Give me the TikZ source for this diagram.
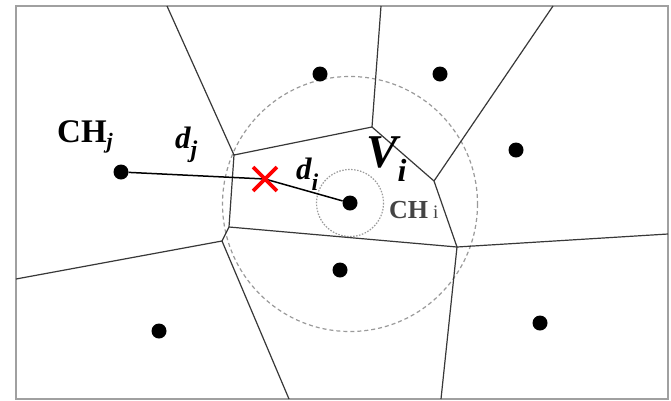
\documentclass[tikz,border=0pt]{standalone}
\usepackage{fontspec}
\setmainfont{Liberation Serif}
\usetikzlibrary{shapes.misc}
\definecolor{edgecol}{HTML}{383838}
\definecolor{ringcol}{HTML}{9A9A9A}
\definecolor{framecol}{HTML}{A0A0A0}
\definecolor{chgray}{HTML}{444444}
\tikzset{
  frame/.style={draw=framecol, line width=1.5pt},
  vedge/.style={draw=edgecol, line width=1.2pt},
  bigring/.style={draw=ringcol, line width=1.2pt, dash pattern=on 4pt off 3pt},
  smallring/.style={draw=ringcol, line width=1.2pt, dash pattern=on 1.5pt off 1.5pt},
  dot/.style={circle, fill=black, inner sep=0pt, minimum size=15pt},
  link/.style={draw=black, line width=1.5pt},
  redcross/.style={cross out, draw=red, line width=3.8pt, inner sep=0pt, minimum size=20pt},
  lbl/.style={inner sep=0pt, anchor=base west}
}
\begin{document}
\begin{tikzpicture}[x=1pt, y=-1pt]
\useasboundingbox (0,0) rectangle (671,400);
\fill[white] (0,0) rectangle (671,400);
\draw[frame] (16,6) rectangle (668,399);

% rings
\draw[bigring] (350,204) circle[radius=127.5];
\draw[smallring] (350,203) circle[radius=33.5];

% Voronoi vertices
\coordinate (A) at (234,155);
\coordinate (B) at (372,127);
\coordinate (C) at (434,181);
\coordinate (D) at (457,247);
\coordinate (E) at (229,227);
\coordinate (F) at (222,241);
% boundary ends
\coordinate (T1) at (167,6);
\coordinate (T2) at (381,6);
\coordinate (T3) at (553,6);
\coordinate (R1) at (668,234);
\coordinate (B1) at (441,399);
\coordinate (B2) at (289,399);
\coordinate (L1) at (16,279);

\draw[vedge] (T1) -- (A) -- (B) -- (C) -- (D) -- (R1);
\draw[vedge] (T2) -- (B);
\draw[vedge] (T3) -- (C);
\draw[vedge] (D) -- (B1);
\draw[vedge] (A) -- (E) -- (F) -- (L1);
\draw[vedge] (E) -- (D);
\draw[vedge] (F) -- (B2);

% sites
\node[dot] (s1) at (320,74) {};
\node[dot] (s2) at (440,74) {};
\node[dot] (s3) at (516,150) {};
\node[dot] (cj) at (121,172) {};
\node[dot] (ci) at (350,203) {};
\node[dot] (s6) at (340,270) {};
\node[dot] (s7) at (159,331) {};
\node[dot] (s8) at (540,323) {};

% red cross
\coordinate (X) at (265,179);
\draw[link] (cj) -- (X);
\draw[link] (X) -- (ci);
\node[redcross] (Xmark) at (X) {};

% labels
\node[lbl] (lchj) at (57,142) {\fontsize{33pt}{34pt}\selectfont\bfseries CH\raisebox{-6pt}{\fontsize{22pt}{22pt}\selectfont\itshape j}};
\node[lbl] (ldj) at (175,148) {\fontsize{31pt}{32pt}\selectfont\bfseries\itshape d\raisebox{-9pt}{\fontsize{24pt}{24pt}\selectfont j}};
\node[lbl] (ldi) at (296,179) {\fontsize{31pt}{32pt}\selectfont\bfseries\itshape d\raisebox{-11pt}{\fontsize{24pt}{24pt}\selectfont i}};
\node[lbl] (lvi) at (366,167) {\fontsize{47pt}{48pt}\selectfont\bfseries\itshape V\raisebox{-14pt}{\fontsize{32pt}{32pt}\selectfont i}};
\node[lbl, text=chgray] (lchi) at (389,218) {\fontsize{26pt}{28pt}\selectfont\bfseries CH\hspace{5pt}\fontsize{19pt}{20pt}\selectfont\mdseries i};
\end{tikzpicture}
\end{document}
